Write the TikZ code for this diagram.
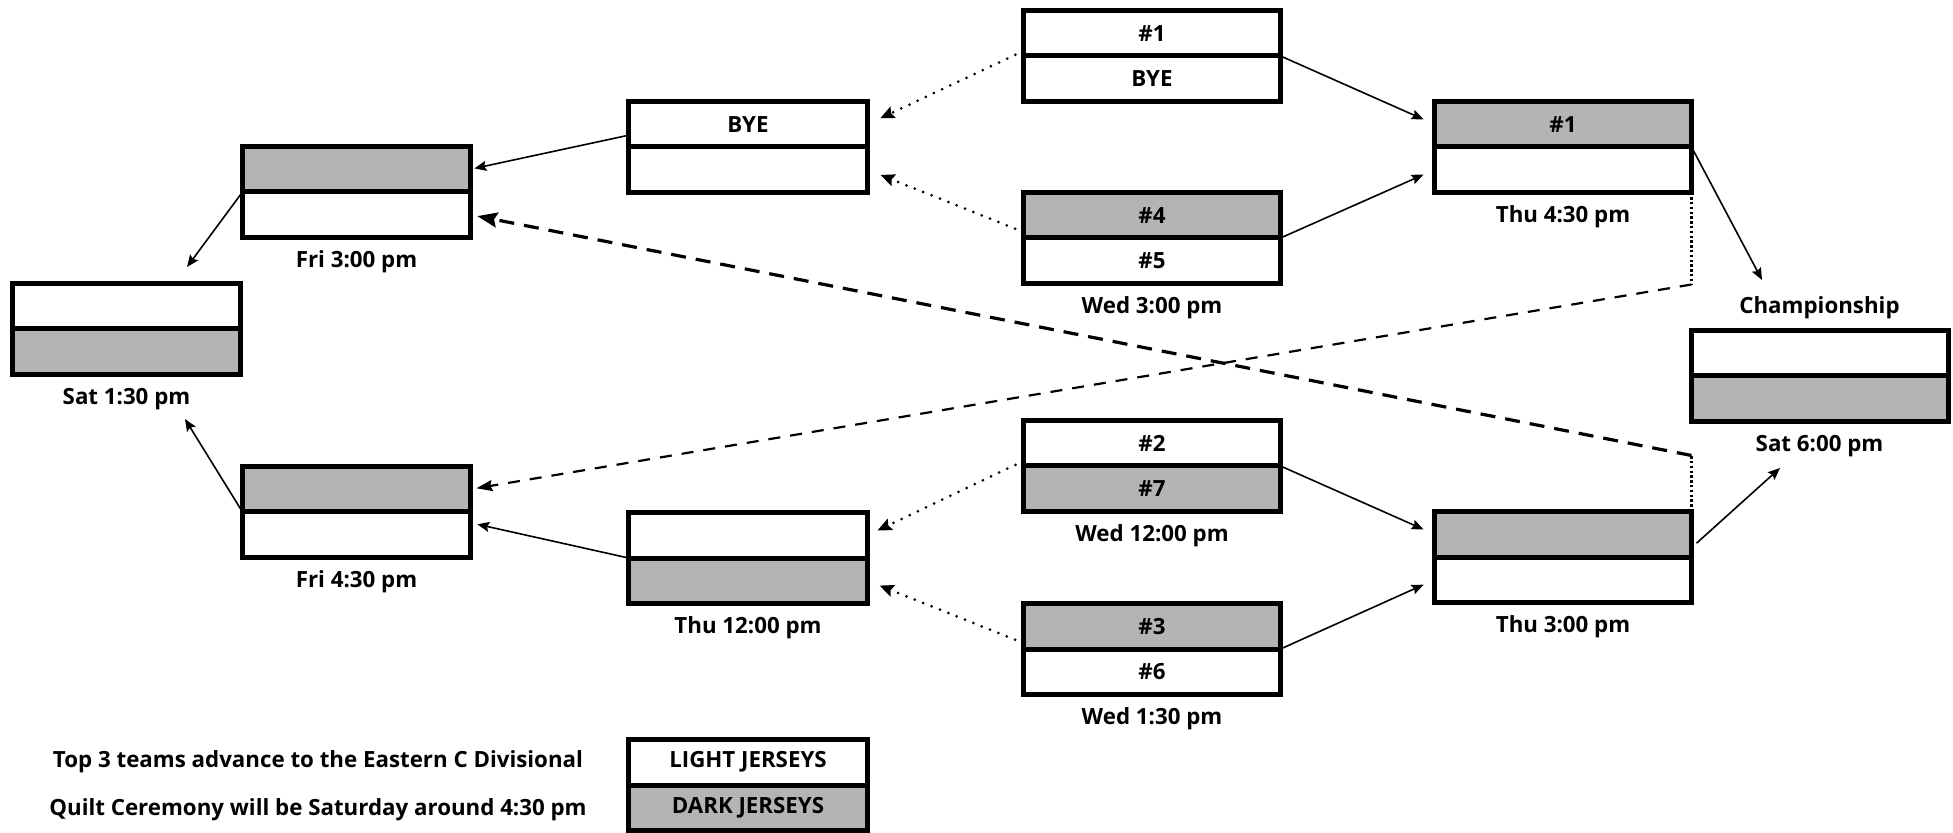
\documentclass[tikz,border=0pt]{standalone}
\usepackage{fontspec}
\setmainfont{Open Sans}
\usetikzlibrary{calc,arrows.meta}
\definecolor{dk}{RGB}{180,180,180}
\newcommand\gbox[8]{%
  \node[#4,#5,anchor=south] (#1-t) at (#2,#3) {#7};
  \node[#4,#6,anchor=north] (#1-b) at (#2,#3) {#8};}
\begin{document}
\begin{tikzpicture}[x=0.5pt,y=-0.5pt,
  every node/.style={font=\bfseries\fontsize{11.15}{13}\selectfont},
  rowbox/.style={draw, line width=2.5pt, outer sep=0pt, inner sep=0pt, minimum height=22.75pt},
  wide/.style={rowbox, minimum width=128.5pt},
  midw/.style={rowbox, minimum width=119.5pt},
  nar/.style={rowbox, minimum width=114pt},
  dkf/.style={fill=dk},
  ltf/.style={fill=white},
  lbl/.style={inner sep=0pt, anchor=base},
  arr/.style={line width=0.8pt, -{Stealth[length=6pt,width=5pt,inset=1pt]}},
  dotarr/.style={line width=1.5pt, line cap=round, dash pattern=on 0pt off 4.5pt, -{Stealth[length=7pt,width=6pt,inset=1pt]}},
  finedot/.style={line width=1.1pt, dash pattern=on 1.2pt off 1.2pt},
  dashthick/.style={line width=1.6pt, dash pattern=on 7.5pt off 5pt, -{Stealth[length=10pt,width=7.5pt,inset=1.5pt]}},
  dashthin/.style={line width=1.1pt, dash pattern=on 6pt off 5pt, -{Stealth[length=8pt,width=5.5pt,inset=1pt]}}
]
\useasboundingbox (0,0) rectangle (1953,833);
% boxes
\gbox{A}{1152}{56}{wide}{ltf}{ltf}{\#1}{BYE}
\gbox{B}{1152}{238}{wide}{dkf}{ltf}{\#4}{\#5}
\gbox{G}{1152}{466}{wide}{ltf}{dkf}{\#2}{\#7}
\gbox{H}{1152}{649}{wide}{dkf}{ltf}{\#3}{\#6}
\gbox{C}{748}{147}{midw}{ltf}{ltf}{BYE}{}
\gbox{I}{748}{558}{midw}{ltf}{dkf}{}{}
\gbox{D}{356.5}{192}{nar}{dkf}{ltf}{}{}
\gbox{J}{356.5}{512}{nar}{dkf}{ltf}{}{}
\gbox{E}{126.5}{329}{nar}{ltf}{dkf}{}{}
\gbox{F}{1563}{147}{wide}{dkf}{ltf}{\#1}{}
\gbox{K}{1563}{557}{wide}{dkf}{ltf}{}{}
\gbox{Ch}{1819.5}{376}{wide}{ltf}{dkf}{}{}
\gbox{L}{748}{785}{midw}{ltf}{dkf}{LIGHT JERSEYS}{DARK JERSEYS}
% labels
\node[lbl] (Bl) at ($(B-b.south)+(0,30)$) {Wed 3:00 pm};
\node[lbl] (Dl) at ($(D-b.south)+(0,30)$) {Fri 3:00 pm};
\node[lbl] (El) at ($(E-b.south)+(0,30)$) {Sat 1:30 pm};
\node[lbl] (Fl) at ($(F-b.south)+(0,30)$) {Thu 4:30 pm};
\node[lbl] (Chl) at ($(Ch-b.south)+(0,30)$) {Sat 6:00 pm};
\node[lbl] (Cht) at ($(Ch-t.north)+(0,-17)$) {Championship};
\node[lbl] (Gl) at ($(G-b.south)+(0,30)$) {Wed 12:00 pm};
\node[lbl] (Hl) at ($(H-b.south)+(0,30)$) {Wed 1:30 pm};
\node[lbl] (Il) at ($(I-b.south)+(0,30)$) {Thu 12:00 pm};
\node[lbl] (Jl) at ($(J-b.south)+(0,30)$) {Fri 4:30 pm};
\node[lbl] (Kl) at ($(K-b.south)+(0,30)$) {Thu 3:00 pm};
\node[inner sep=0pt] (n1) at (318,762) {Top 3 teams advance to the Eastern C Divisional};
\node[inner sep=0pt] (n2) at (318,810) {Quilt Ceremony will be Saturday around 4:30 pm};
% free ends
\coordinate (chtip) at (1762,280);
\coordinate (sattip) at (1780,468);
\coordinate (e1tip) at (187,267);
\coordinate (e2tip) at (185,419);
% connectors
\draw[dotarr, shorten >=7pt] ($(A-t.south west)+(0,-5)$) -- (C-t.east);
\draw[dotarr, shorten >=7pt] ($(B-t.south west)+(0,-6)$) -- (C-b.east);
\draw[dotarr, shorten >=5.5pt] ($(G-t.south west)+(0,-5)$) -- (I-t.east);
\draw[dotarr, shorten >=6.5pt] ($(H-t.south west)+(0,-6)$) -- (I-b.east);
\draw[arr, shorten >=6pt] (A-t.south east) -- (F-t.west);
\draw[arr, shorten >=6pt] (B-t.south east) -- (F-b.west);
\draw[arr, shorten >=6pt] (G-t.south east) -- (K-t.west);
\draw[arr, shorten >=6pt] (H-t.south east) -- (K-b.west);
\draw[arr, shorten >=2pt] ($(C-t.west)+(0,11)$) -- (D-t.east);
\draw[arr, shorten >=3.5pt] (I-t.south west) -- ($(J-b.east)+(0,-12)$);
\draw[arr] (D-t.south west) -- (e1tip);
\draw[arr] (J-t.south west) -- (e2tip);
\draw[arr] (F-t.south east) -- (chtip);
\draw[arr] ($(K-t.east)+(5,9)$) -- (sattip);
\draw[finedot] (K-t.north east) -- ++(0,-56) coordinate (kd);
\draw[dashthick, shorten >=3.5pt] (kd) -- (D-b.east);
\draw[finedot] (F-b.south east) -- ++(0,92) coordinate (fj);
\draw[dashthin, shorten >=3pt] (fj) -- (J-t.east);
\end{tikzpicture}
\end{document}
